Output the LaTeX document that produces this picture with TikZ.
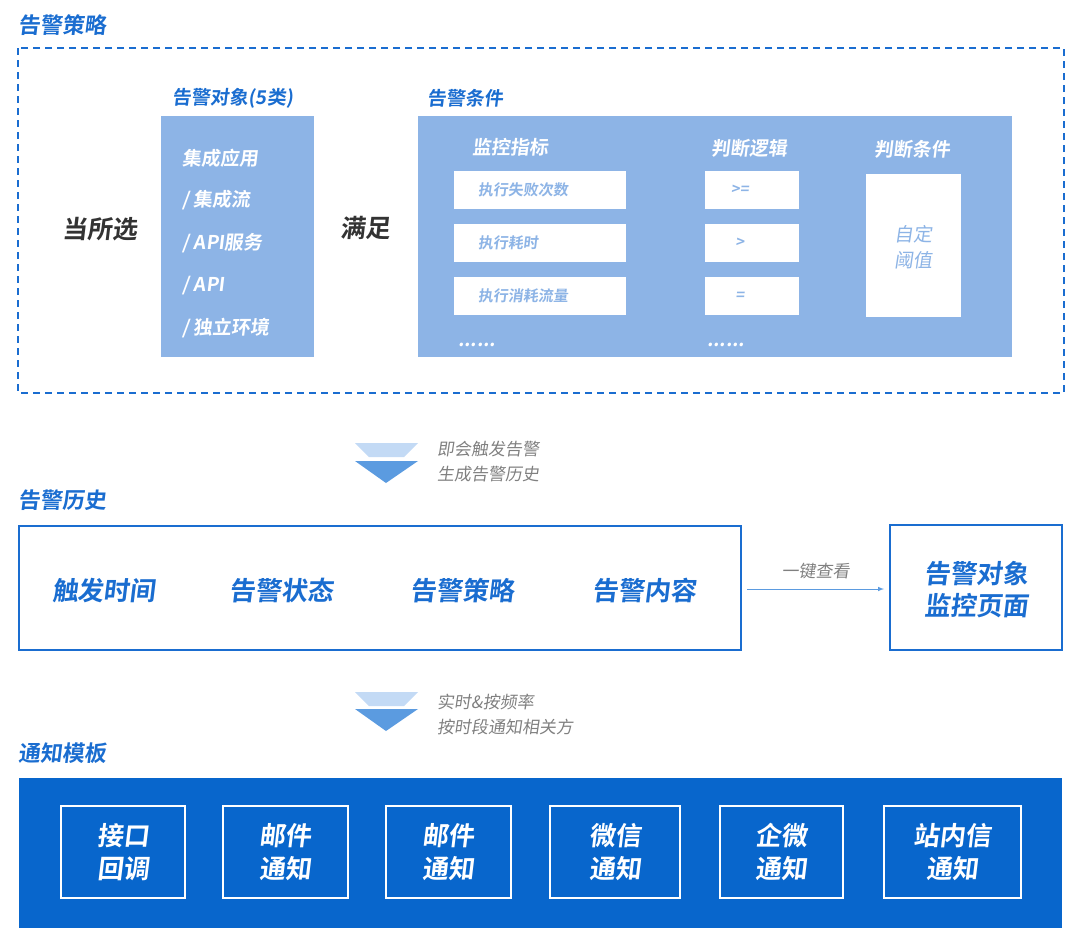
\documentclass[tikz,border=0pt]{standalone}
\usepackage{fontspec}
\setmainfont{Noto Sans CJK SC}
\newfontfamily\cjkbold[FakeSlant=0.12]{Noto Sans CJK SC Bold}
\newfontfamily\cjkit[FakeSlant=0.15]{Noto Sans CJK SC}
\definecolor{mainblue}{HTML}{1A6DD0}
\definecolor{deepblue}{HTML}{0866CC}
\definecolor{paleblue}{HTML}{8DB4E6}
\definecolor{lightchev}{HTML}{C3DAF5}
\definecolor{midchev}{HTML}{5B9BE0}
\definecolor{txtgray}{HTML}{333333}
\begin{document}
\begin{tikzpicture}[x=1pt,y=-1pt,
	title/.style={font=\cjkbold\fontsize{22}{24}\selectfont,text=mainblue,anchor=west,inner sep=0},
	subtitle/.style={font=\cjkbold\fontsize{19}{22}\selectfont,text=mainblue,inner sep=0},
	panel/.style={fill=paleblue,draw=none},
	cell/.style={fill=white,draw=none},
	celltext/.style={font=\cjkbold\fontsize{15}{18}\selectfont,text=paleblue,inner sep=0},
	whitetext/.style={font=\cjkbold\fontsize{19}{22}\selectfont,text=white,inner sep=0},
	bigblue/.style={font=\cjkbold\fontsize{26}{32}\selectfont,text=mainblue,inner sep=0,align=center},
	note/.style={font=\cjkit\fontsize{17}{20}\selectfont,text=gray,anchor=west,inner sep=0},
	notebox/.style={draw=white,line width=1.5pt},
	notetext/.style={font=\cjkbold\fontsize{26}{33}\selectfont,text=white,align=center,inner sep=0}]
\useasboundingbox (0,0) rectangle (1080,943);

% 告警策略
\node[title] (strat) at (18,25) {告警策略};
\draw[mainblue,line width=1.5pt,dash pattern=on 7pt off 5pt] (18,48) rectangle (1064,393);
\node[font=\cjkbold\fontsize{25}{28}\selectfont,text=txtgray] (sel) at (100,229) {当所选};
\node[subtitle] (objt) at (233,98) {告警对象(5类)};
\fill[panel] (161,116) rectangle (314,357);
\node[whitetext,anchor=west] (o1) at (182,158) {集成应用};
\node[whitetext,anchor=west] (o2) at (182,200) {/ 集成流};
\node[whitetext,anchor=west] (o3) at (182,243) {/ API服务};
\node[whitetext,anchor=west] (o4) at (182,286) {/ API};
\node[whitetext,anchor=west] (o5) at (182,328) {/ 独立环境};
\node[font=\cjkbold\fontsize{25}{28}\selectfont,text=txtgray] (meet) at (365,228) {满足};
\node[subtitle] (cond) at (465,98) {告警条件};
\fill[panel] (418,116) rectangle (1012,357);
\node[whitetext] (h1) at (510,147) {监控指标};
\node[whitetext] (h2) at (749,148) {判断逻辑};
\node[whitetext] (h3) at (912,149) {判断条件};
\foreach \y/\m/\o in {171/执行失败次数/>=,224/执行耗时/>,277/执行消耗流量/=} {
	\fill[cell] (454,\y) rectangle (626,\y+38);
	\node[celltext,anchor=west] at (478,\y+19) {\m};
	\fill[cell] (705,\y) rectangle (799,\y+38);
	\node[celltext] at (740,\y+19) {\o};
}
\fill[cell] (866,174) rectangle (961,317);
\node[font=\cjkit\fontsize{19}{26}\selectfont,text=paleblue,align=center] (custom) at (913,247) {自定\\阈值};
\node[whitetext] (dots1) at (477,345) {......};
\node[whitetext] (dots2) at (726,345) {......};

% 箭头 1
\fill[lightchev] (355,443) -- (418,443) -- (404,457) -- (369,457) -- cycle;
\fill[midchev] (355,461) -- (418,461) -- (386,483) -- cycle;
\node[note] (n1) at (437,449) {即会触发告警};
\node[note] (n2) at (437,474) {生成告警历史};

% 告警历史
\node[title] (hist) at (18,500) {告警历史};
\draw[mainblue,line width=1.3pt] (19,526) rectangle (741,650);
\node[bigblue] (f1) at (104,591) {触发时间};
\node[bigblue] (f2) at (281,591) {告警状态};
\node[bigblue] (f3) at (462,591) {告警策略};
\node[bigblue] (f4) at (644,591) {告警内容};
\draw[mainblue,line width=1.3pt] (890,525) rectangle (1062,650);
\node[bigblue] (page) at (976,590) {告警对象\\监控页面};
\coordinate (arrs) at (747,589);
\coordinate (arre) at (884,589);
\draw[-latex,midchev,line width=1pt] (arrs) -- node[above=6pt,font=\cjkit\fontsize{17}{20}\selectfont,text=gray] {一键查看} (arre);

% 箭头 2
\fill[lightchev] (355,692) -- (418,692) -- (404,706) -- (369,706) -- cycle;
\fill[midchev] (355,709) -- (418,709) -- (386,731) -- cycle;
\node[note] (n3) at (437,702) {实时\&按频率};
\node[note] (n4) at (437,727) {按时段通知相关方};

% 通知模板
\node[title] (tmpl) at (18,753) {通知模板};
\fill[deepblue] (19,778) rectangle (1062,928);
\foreach \a/\b/\t in {61/185/接口\\回调,223/348/邮件\\通知,386/511/邮件\\通知,550/680/微信\\通知,720/843/企微\\通知,884/1021/站内信\\通知} {
	\draw[notebox] (\a,806) rectangle (\b,898);
	\node[notetext] at ({(\a+\b)/2},852) {\t};
}
\end{tikzpicture}
\end{document}
